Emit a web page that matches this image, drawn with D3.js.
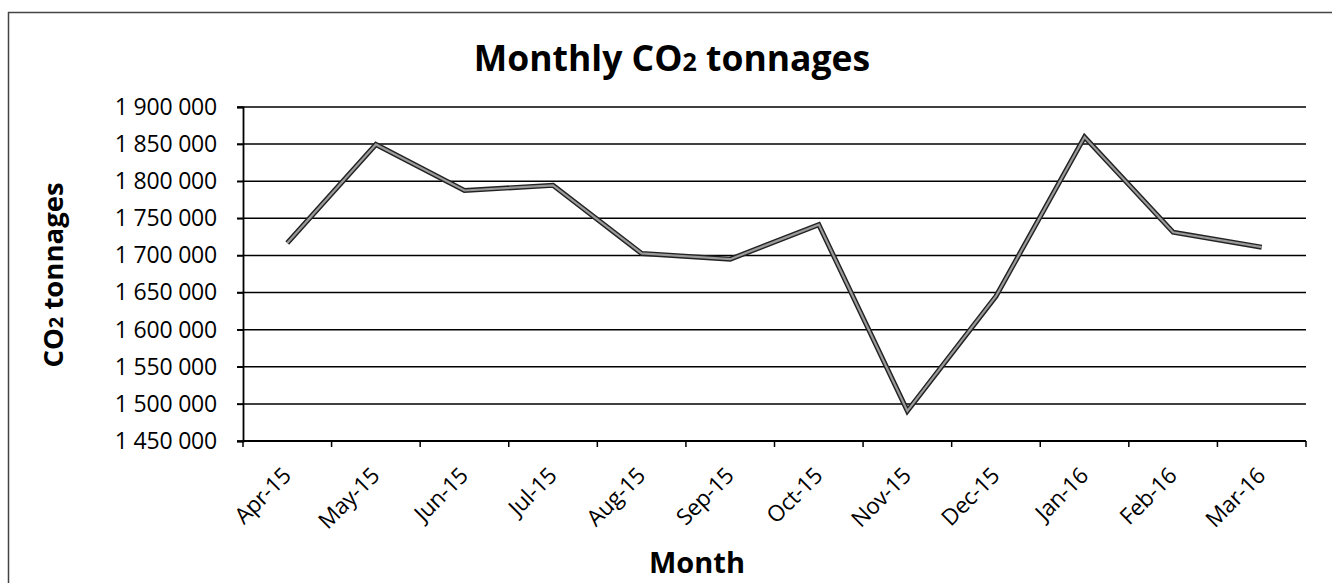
<!DOCTYPE html>
<html>
<head>
<meta charset="utf-8">
<script src="https://cdn.jsdelivr.net/npm/d3@7"></script>
<style>
  html, body { margin: 0; padding: 0; background: #fff; }
  svg { display: block; }
  text { font-family: "Open Sans", "Noto Sans", sans-serif; fill: #000; }
</style>
</head>
<body>
<svg id="chart" width="1332" height="583"></svg>
<script>
const months = ["Apr-15","May-15","Jun-15","Jul-15","Aug-15","Sep-15","Oct-15","Nov-15","Dec-15","Jan-16","Feb-16","Mar-16"];
const tonnages = [1716800, 1849500, 1787500, 1794500, 1702700, 1695000, 1741500, 1490500, 1645000, 1859500, 1731200, 1711100];
const yTicks = [1450000, 1500000, 1550000, 1600000, 1650000, 1700000, 1750000, 1800000, 1850000, 1900000];

const svg = d3.select("#chart");
const W = 1332, H = 583;
const plot = {left: 243, right: 1306, top: 107, bottom: 441};

// outer border (top and left visible)
svg.append("line").attr("x1", 8).attr("x2", W).attr("y1", 12.5).attr("y2", 12.5)
  .attr("stroke", "#444").attr("stroke-width", 1.5);
svg.append("line").attr("x1", 8.5).attr("x2", 8.5).attr("y1", 12).attr("y2", H)
  .attr("stroke", "#444").attr("stroke-width", 1.5);

const x = d3.scaleBand().domain(months).range([plot.left, plot.right]).padding(0);
const y = d3.scaleLinear().domain([1450000, 1900000]).range([plot.bottom, plot.top]);
const fmt = v => d3.format(",")(v).replace(/,/g, " ");

// gridlines
svg.append("g").selectAll("line").data(yTicks).join("line")
  .attr("x1", plot.left - 6).attr("x2", plot.right)
  .attr("y1", d => y(d)).attr("y2", d => y(d))
  .attr("stroke", "#000").attr("stroke-width", 1.5);

// y axis
const yAxis = d3.axisLeft(y).tickValues(yTicks).tickFormat(fmt).tickSize(6).tickPadding(20);
const gy = svg.append("g").attr("transform", `translate(${plot.left},0)`).call(yAxis);
gy.select(".domain").attr("stroke", "#000").attr("stroke-width", 1.8);
gy.selectAll(".tick line").attr("stroke", "#000").attr("stroke-width", 1.5);
gy.selectAll(".tick text").attr("font-size", 23).attr("fill", "#000")
  .style("font-family", "'Open Sans', sans-serif").attr("letter-spacing", -0.2);

// x axis
const gx = svg.append("g").attr("transform", `translate(0,${plot.bottom})`);
gx.append("line").attr("x1", plot.left).attr("x2", plot.right).attr("y1", 0).attr("y2", 0)
  .attr("stroke", "#000").attr("stroke-width", 1.8);
const boundaries = months.map(m => x(m)).concat([x(months[months.length - 1]) + x.bandwidth()]);
gx.selectAll("line.tk").data(boundaries).join("line").attr("class", "tk")
  .attr("x1", d => d).attr("x2", d => d).attr("y1", 0).attr("y2", 6)
  .attr("stroke", "#000").attr("stroke-width", 1.5);
gx.selectAll("text.lbl").data(months).join("text").attr("class", "lbl")
  .attr("transform", d => `translate(${x(d) + x.bandwidth() / 2 + 5},${36}) rotate(-45)`)
  .attr("text-anchor", "end")
  .attr("font-size", 22.5)
  .attr("letter-spacing", -0.3)
  .text(d => d);

// line series
const line = d3.line().x((d, i) => x(months[i]) + x.bandwidth() / 2).y(d => y(d));
svg.append("path").datum(tonnages).attr("d", line)
  .attr("fill", "none").attr("stroke", "#222").attr("stroke-width", 5).attr("stroke-linejoin", "miter");
svg.append("path").datum(tonnages).attr("d", line)
  .attr("fill", "none").attr("stroke", "#9a9a9a").attr("stroke-width", 2.2).attr("stroke-linejoin", "miter");

// title
const t = svg.append("text").attr("x", 672).attr("y", 71).attr("text-anchor", "middle")
  .attr("font-size", 35.5).attr("font-weight", "bold");
t.append("tspan").text("Monthly CO");
t.append("tspan").attr("font-size", 25).text("2");
t.append("tspan").text(" tonnages");

// y label
const yl = svg.append("text").attr("transform", "translate(63,275) rotate(-90)")
  .attr("text-anchor", "middle").attr("font-size", 27.5).attr("font-weight", "bold");
yl.append("tspan").text("CO");
yl.append("tspan").attr("font-size", 20).text("2");
yl.append("tspan").text(" tonnages");

// x label
svg.append("text").attr("x", 697).attr("y", 573).attr("text-anchor", "middle")
  .attr("font-size", 29).attr("font-weight", "bold").text("Month");
</script>
</body>
</html>
